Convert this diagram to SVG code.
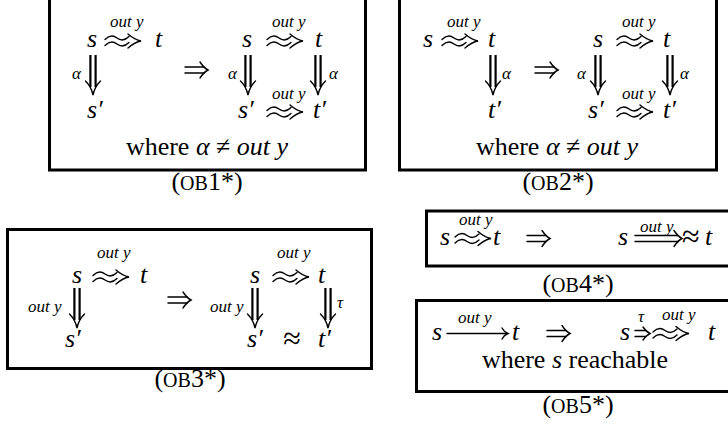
<svg xmlns="http://www.w3.org/2000/svg" width="728" height="425" viewBox="0 0 728 425">
<style>
  text { font-family: "Liberation Serif", "Times New Roman", serif; fill: #000; }
  .m { font-style: italic; font-size: 26px; }
  .r { font-size: 26px; }
  .ap { font-size: 32px; }
  .sup { font-style: italic; font-size: 17px; }
  .sc { font-size: 20px; }
  .box { fill: none; stroke: #000; stroke-width: 3; }
  .ln { fill: none; stroke: #000; stroke-width: 1.4; stroke-linecap: round; }
  .bar { fill: none; stroke: #000; stroke-width: 2.2; }
</style>
<defs>
  <!-- squiggly arrow  ≈> : origin at left, math axis -->
  <g id="sq">
    <path class="ln" d="M0,-1.5 q6,-6 12,-1.5 t12,-1.5"/>
    <path class="ln" d="M0,4.5 q6,-6 12,-1.5 t12,-1.5"/>
    <path class="ln" d="M23,-7 Q30,-1 36,0 Q30,1 23,7"/>
  </g>
  <!-- long double down arrow: origin top centre -->
  <g id="dd">
    <path class="bar" d="M-2.6,0 V32 M2.6,0 V32"/>
    <path class="ln" d="M-7.5,26 C-3.5,30 -1,35 0,40 C1,35 3.5,30 7.5,26"/>
  </g>
  <!-- implies arrow: origin left, axis -->
  <g id="imp">
    <path class="ln" d="M0,-3 H19 M0,3 H19"/>
    <path class="ln" d="M15,-8 Q19,-2 23,0 Q19,2 15,8"/>
  </g>
</defs>

<!-- OB1* -->
<g id="ob1">
  <rect class="box" x="49.5" y="-10" width="316" height="180"/>
  <g class="connectors">
    <use href="#sq" x="105" y="41"/>
    <use href="#dd" x="93" y="55"/>
    <use href="#imp" x="185" y="70"/>
    <use href="#sq" x="267" y="41"/>
    <use href="#dd" x="248" y="55"/>
    <use href="#dd" x="318" y="55"/>
    <use href="#sq" x="267" y="112"/>
  </g>
  <text class="m" x="87" y="47">s</text>
  <text class="sup" x="110" y="27">out y</text>
  <text class="m" x="155" y="47">t</text>
  <text class="sup" x="72" y="79">α</text>
  <text class="m" x="87" y="118">s′</text>
  <text class="m" x="242" y="47">s</text>
  <text class="sup" x="272" y="27">out y</text>
  <text class="m" x="315" y="47">t</text>
  <text class="sup" x="228" y="79">α</text>
  <text class="sup" x="329" y="79">α</text>
  <text class="m" x="238" y="118">s′</text>
  <text class="sup" x="272" y="99">out y</text>
  <text class="m" x="313" y="118">t′</text>
  <text class="r" x="207" y="155" text-anchor="middle">where <tspan font-style="italic">α</tspan> ≠ <tspan font-style="italic">out y</tspan></text>
  <text class="r" x="207" y="190" text-anchor="middle">(<tspan class="sc">OB</tspan>1*)</text>
</g>

<!-- OB2* -->
<g id="ob2">
  <rect class="box" x="399.5" y="-10" width="317" height="180"/>
  <g class="connectors">
    <use href="#sq" x="442" y="41"/>
    <use href="#dd" x="493" y="55"/>
    <use href="#imp" x="535" y="70"/>
    <use href="#sq" x="617" y="41"/>
    <use href="#dd" x="598" y="55"/>
    <use href="#dd" x="670" y="55"/>
    <use href="#sq" x="617" y="112"/>
  </g>
  <text class="m" x="423" y="47">s</text>
  <text class="sup" x="447" y="27">out y</text>
  <text class="m" x="488" y="47">t</text>
  <text class="sup" x="502" y="79">α</text>
  <text class="m" x="488" y="118">t′</text>
  <text class="m" x="593" y="47">s</text>
  <text class="sup" x="622" y="27">out y</text>
  <text class="m" x="663" y="47">t</text>
  <text class="sup" x="577" y="79">α</text>
  <text class="sup" x="680" y="79">α</text>
  <text class="m" x="588" y="118">s′</text>
  <text class="sup" x="622" y="99">out y</text>
  <text class="m" x="663" y="118">t′</text>
  <text class="r" x="557" y="155" text-anchor="middle">where <tspan font-style="italic">α</tspan> ≠ <tspan font-style="italic">out y</tspan></text>
  <text class="r" x="558" y="190" text-anchor="middle">(<tspan class="sc">OB</tspan>2*)</text>
</g>

<!-- OB3* -->
<g id="ob3">
  <rect class="box" x="7.5" y="229.5" width="364" height="139"/>
  <g class="connectors">
    <use href="#sq" x="93" y="277"/>
    <use href="#dd" x="77" y="288"/>
    <use href="#imp" x="168" y="300"/>
    <use href="#sq" x="273" y="277"/>
    <use href="#dd" x="255" y="288"/>
    <use href="#dd" x="328" y="288"/>
  </g>
  <text class="m" x="72" y="283">s</text>
  <text class="sup" x="97" y="258">out y</text>
  <text class="m" x="140" y="283">t</text>
  <text class="sup" x="28" y="312">out y</text>
  <text class="m" x="65" y="347">s′</text>
  <text class="m" x="250" y="283">s</text>
  <text class="sup" x="277" y="258">out y</text>
  <text class="m" x="318" y="283">t</text>
  <text class="sup" x="210" y="312">out y</text>
  <text class="sup" x="337" y="308">τ</text>
  <text class="m" x="247" y="347">s′</text>
  <text class="ap" x="292" y="349" text-anchor="middle">≈</text>
  <text class="m" x="318" y="347">t′</text>
  <text class="r" x="190" y="387" text-anchor="middle">(<tspan class="sc">OB</tspan>3*)</text>
</g>

<!-- OB4* -->
<g id="ob4">
  <rect class="box" x="426.5" y="211" width="320" height="55"/>
  <g class="connectors">
    <use href="#sq" x="455" y="238.5"/>
    <use href="#imp" x="527" y="238.5"/>
    <path class="ln" d="M635,235.5 H678 M635,241.5 H678"/>
    <path class="ln" d="M674,230.5 Q678,236.5 682,238.5 Q678,240.5 674,246.5"/>
  </g>
  <text class="m" x="440" y="245">s</text>
  <text class="sup" x="459" y="225">out y</text>
  <text class="m" x="493" y="245">t</text>
  <text class="m" x="618" y="245">s</text>
  <text class="sup" x="640" y="232">out y</text>
  <text class="ap" x="682" y="247">≈</text>
  <text class="m" x="705" y="245">t</text>
  <text class="r" x="578" y="292" text-anchor="middle">(<tspan class="sc">OB</tspan>4*)</text>
</g>

<!-- OB5* -->
<g id="ob5">
  <rect class="box" x="416.5" y="300.5" width="330" height="91"/>
  <g class="connectors">
    <path class="ln" d="M447,333.5 H506"/>
    <path class="ln" d="M502,328 Q504,332 508,333.5 Q504,335 502,339"/>
    <use href="#imp" x="547" y="333.5"/>
    <path class="ln" d="M635,330.5 H646 M635,336.5 H646"/>
    <path class="ln" d="M643,327 Q646,331.5 650,333.5 Q646,335.5 643,340"/>
    <use href="#sq" x="653" y="333.5"/>
  </g>
  <text class="m" x="432" y="340">s</text>
  <text class="sup" x="458" y="323">out y</text>
  <text class="m" x="512" y="340">t</text>
  <text class="m" x="620" y="340">s</text>
  <text class="sup" x="638" y="322">τ</text>
  <text class="sup" x="662" y="320">out y</text>
  <text class="m" x="708" y="340">t</text>
  <text class="r" x="575" y="368" text-anchor="middle">where <tspan font-style="italic">s</tspan> reachable</text>
  <text class="r" x="578" y="413" text-anchor="middle">(<tspan class="sc">OB</tspan>5*)</text>
</g>
</svg>
